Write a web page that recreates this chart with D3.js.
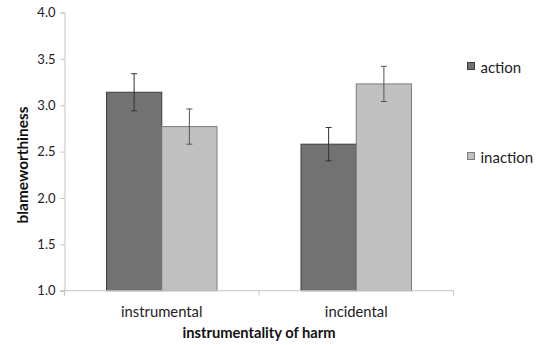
<!DOCTYPE html>
<html><head><meta charset="utf-8">
<script src="https://cdn.jsdelivr.net/npm/d3@7/dist/d3.min.js"></script>
<style>body{margin:0;background:#fff}svg{display:block}text{font-family:Lato,"Open Sans",sans-serif}</style>
</head><body><svg id="c" width="537" height="345"></svg>
<script>
const categories = ["instrumental", "incidental"];
const seriesNames = ["action", "inaction"];
const actionValues = [3.14, 2.58];
const inactionValues = [2.77, 3.23];
const actionErrors = [0.20, 0.18];
const inactionErrors = [0.19, 0.19];
const yTicks = [1.0, 1.5, 2.0, 2.5, 3.0, 3.5, 4.0];

(function(){
const svg = d3.select("#c");
const mLeft = 64.5, mRight = 453.5, mTop = 12.5, mBottom = 290.7;
const fills = ["#727272", "#c0c0c0"];
const strokes = ["#3c3c3c", "#7c7c7c"];
const errColors = ["#333", "#555"];

const y = d3.scaleLinear().domain([1, 4]).range([mBottom, mTop]);
const x0 = d3.scaleBand().domain(categories).range([mLeft, mRight]).paddingInner(0).paddingOuter(0);
const x1 = d3.scaleBand().domain(seriesNames).range([42, x0.bandwidth() - 42]);

const yAxis = svg.append("g").attr("transform", `translate(${mLeft},0)`)
  .call(d3.axisLeft(y).tickValues(yTicks).tickFormat(d3.format(".1f")).tickSize(4).tickPadding(5));
yAxis.select(".domain").attr("stroke", "#c4c4c4");
yAxis.selectAll(".tick line").attr("stroke", "#c4c4c4");
yAxis.selectAll(".tick text").attr("font-size", 13).attr("fill", "#222").attr("font-family", "Lato, sans-serif");

const data = categories.map((c, i) => ({c, vals: [
  {s: "action", v: actionValues[i], e: actionErrors[i], k: 0},
  {s: "inaction", v: inactionValues[i], e: inactionErrors[i], k: 1}
]}));
const g = svg.selectAll(".cat").data(data).join("g").attr("class", "cat").attr("transform", d => `translate(${x0(d.c)},0)`);
g.selectAll("rect").data(d => d.vals).join("rect")
  .attr("x", d => x1(d.s)).attr("width", x1.bandwidth())
  .attr("y", d => y(d.v)).attr("height", d => y(1) - y(d.v))
  .attr("fill", d => fills[d.k]).attr("stroke", d => strokes[d.k]).attr("stroke-width", 1);
const eb = g.selectAll(".eb").data(d => d.vals).join("g").attr("class", "eb").attr("stroke", d => errColors[d.k]).attr("stroke-width", 1);
const cx = d => x1(d.s) + x1.bandwidth()/2;
eb.append("line").attr("x1", cx).attr("x2", cx)
  .attr("y1", d => y(d.v + d.e)).attr("y2", d => y(d.v - d.e));
eb.append("line").attr("x1", d => cx(d) - 3).attr("x2", d => cx(d) + 3)
  .attr("y1", d => y(d.v + d.e)).attr("y2", d => y(d.v + d.e));
eb.append("line").attr("x1", d => cx(d) - 3).attr("x2", d => cx(d) + 3)
  .attr("y1", d => y(d.v - d.e)).attr("y2", d => y(d.v - d.e));

const xg = svg.append("g").attr("transform", `translate(0,${mBottom})`);
xg.append("line").attr("x1", mLeft - 4).attr("x2", mRight).attr("stroke", "#c4c4c4");
[mLeft, x0("incidental"), mRight].forEach(t => xg.append("line").attr("x1", t).attr("x2", t).attr("y1", 0).attr("y2", 5).attr("stroke", "#c4c4c4"));
categories.forEach(c => xg.append("text").attr("x", x0(c) + x0.bandwidth()/2).attr("y", 26)
  .attr("text-anchor", "middle").attr("font-size", 14.8).attr("fill", "#222").text(c));

svg.append("text").attr("x", (mLeft + mRight)/2).attr("y", 337.5).attr("text-anchor", "middle")
  .attr("font-size", 14.7).attr("font-weight", "bold").attr("fill", "#111").text("instrumentality of harm");
svg.append("text").attr("transform", `translate(28,165) rotate(-90)`).attr("text-anchor", "middle")
  .attr("font-size", 15.4).attr("font-weight", "bold").attr("fill", "#111").text("blameworthiness");

const legY = [62, 152];
seriesNames.forEach((s, i) => {
  svg.append("rect").attr("x", 467.5).attr("y", legY[i] + 0.5).attr("width", 7).attr("height", 7)
    .attr("fill", fills[i]).attr("stroke", strokes[i]);
  svg.append("text").attr("x", 480.5).attr("y", legY[i] + 11).attr("font-size", 15).attr("fill", "#222").text(s);
});
})();
</script></body></html>
